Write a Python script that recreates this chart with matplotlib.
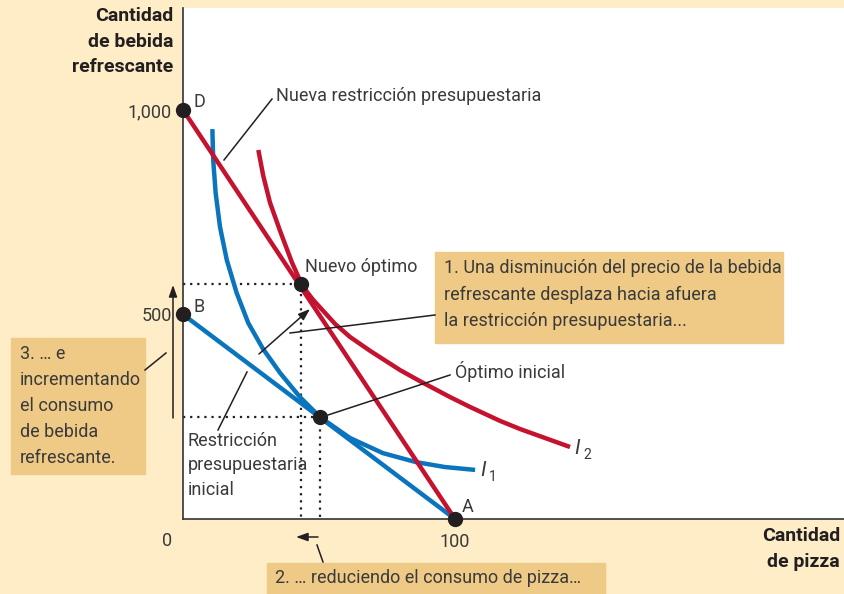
import matplotlib.pyplot as plt
from matplotlib.patches import Rectangle

plt.rcParams['font.family'] = ['Roboto', 'DejaVu Sans']

# budget constraints (pizza, soda)
initial_x = [0, 100]
initial_y = [500, 0]
new_x = [0, 100]
new_y = [1000, 0]

# indifference curves
i1_x = [10.8, 11.1, 12.0, 13.6, 16.1, 19.7, 24.0, 29.4, 35.7, 43.0, 50.4, 61.4, 73.5, 85.7, 96.3, 107.4]
i1_y = [953, 878, 797, 714, 633, 553, 479, 416, 357, 298, 249, 198, 161, 139, 127, 120]
i2_x = [27.7, 29.5, 32.0, 35.7, 40.0, 43.4, 45.6, 47.8, 55.9, 61.4, 68.8, 79.8, 87.1, 98.2, 105.5, 116.5, 123.9, 142.3]
i2_y = [902, 839, 773, 704, 628, 577, 555, 536, 477, 445, 411, 364, 337, 298, 274, 240, 220, 176]

opt_initial = (50.4, 249)
opt_new = (43.4, 574)
corner_points = {"D": (0, 1000), "B": (0, 500), "A": (100, 0)}

red = "#c4122f"
blue = "#0a74bd"
cream = "#feedc7"
box = "#efca86"
ink = "#231f20"
grey = "#3a3a3a"

fig = plt.figure(figsize=(8.45, 5.94), dpi=100, facecolor=cream)
W, H = 845, 594
ax = fig.add_axes([183 / W, 1 - 519 / H, (845 - 183) / W, (519 - 8) / H])
ax.set_facecolor("white")
ax.set_xlim(0, 243.4)
ax.set_ylim(0, 1249)
for s in ["top", "right"]:
    ax.spines[s].set_visible(False)
for s in ["left", "bottom"]:
    ax.spines[s].set_color("#333333")
    ax.spines[s].set_linewidth(1.2)

ax.set_xticks([100])
ax.set_xticklabels(["100"])
ax.set_yticks([500, 1000])
ax.set_yticklabels(["500", "1,000"])
ax.tick_params(length=0, labelsize=13, colors=grey, pad=10)
ax.tick_params(axis="y", pad=8)

# guides to the optimum points
dots = (0, (1, 2.2))
ax.plot([0, opt_new[0], opt_new[0]], [opt_new[1], opt_new[1], 0], ls=dots, color=ink, lw=1.6)
ax.plot([0, opt_initial[0], opt_initial[0]], [opt_initial[1], opt_initial[1], 0], ls=dots, color=ink, lw=1.6)

ax.plot(i1_x, i1_y, color=blue, lw=3.2, solid_capstyle="butt", solid_joinstyle="round")
ax.plot(i2_x, i2_y, color=red, lw=3.2, solid_capstyle="butt", solid_joinstyle="round")
ax.plot(initial_x, initial_y, color=blue, lw=3.2)
ax.plot(new_x, new_y, color=red, lw=3.2)

for name, (px_, py_) in corner_points.items():
    ax.plot(px_, py_, "o", color=ink, ms=10, clip_on=False, zorder=5)
ax.plot(*opt_initial, "o", color=ink, ms=10, zorder=5)
ax.plot(*opt_new, "o", color=ink, ms=10, zorder=5)

# overlay in pixel coordinates for labels and callouts
ov = fig.add_axes([0, 0, 1, 1], zorder=10)
ov.set_xlim(0, W)
ov.set_ylim(H, 0)
ov.axis("off")
ov.patch.set_visible(False)

fs = 13
txt = dict(fontsize=fs, color=grey)

ov.text(173, 7, "Cantidad\nde bebida\nrefrescante", ha="right", va="top", fontsize=14,
        fontweight="bold", color=ink, linespacing=1.55)
ov.text(840, 527, "Cantidad\nde pizza", ha="right", va="top", fontsize=14,
        fontweight="bold", color=ink, linespacing=1.6)
ov.text(167, 541, "0", ha="center", va="center", **txt)

ov.text(194, 102, "D", ha="left", va="center", **txt)
ov.text(194, 307, "B", ha="left", va="center", **txt)
ov.text(462, 507, "A", ha="left", va="center", **txt)
ov.text(305, 267, "Nuevo óptimo", ha="left", va="center", **txt)
ov.text(455, 371, "Óptimo inicial", ha="left", va="center", **txt)
ov.text(276, 96, "Nueva restricción presupuestaria", ha="left", va="center", **txt)
ov.text(188, 432, "Restricción\npresupuestaria\ninicial", ha="left", va="top", linespacing=1.45, **txt)

ov.text(480, 470, "I", ha="left", va="center", fontsize=15, fontstyle="italic", color=grey)
ov.text(489, 477, "1", ha="left", va="center", fontsize=10, color=grey)
ov.text(574, 448, "I", ha="left", va="center", fontsize=15, fontstyle="italic", color=grey)
ov.text(583, 455, "2", ha="left", va="center", fontsize=10, color=grey)

# leader lines
lines = [
    ((272, 99), (224, 160)),
    ((450, 375), (328, 415)),
    ((435, 315), (290, 333)),
    ((247, 372), (218, 430)),
    ((145, 370), (166, 353)),
    ((323, 562), (317, 545)),
]
for (x0, y0), (x1, y1) in lines:
    ov.plot([x0, x1], [y0, y1], color=ink, lw=1.1)

arrow = dict(arrowstyle="-|>,head_length=0.7,head_width=0.25", color=ink, lw=1.1, shrinkA=0, shrinkB=0)
ov.annotate("", xy=(310, 309), xytext=(259, 354), arrowprops=arrow)
ov.annotate("", xy=(173, 285), xytext=(173, 418), arrowprops=arrow)
ov.annotate("", xy=(296, 537), xytext=(318, 537), arrowprops=arrow)

# callout boxes
ov.add_patch(Rectangle((435, 252), 348, 91, color=box, zorder=1))
ov.text(444, 259, "1. Una disminución del precio de la bebida\nrefrescante desplaza hacia afuera\nla restricción presupuestaria...",
        ha="left", va="top", linespacing=1.6, zorder=2, **txt)
ov.add_patch(Rectangle((11, 338), 134, 136, color=box, zorder=1))
ov.text(20, 345, "3. … e\nincrementando\nel consumo\nde bebida\nrefrescante.",
        ha="left", va="top", linespacing=1.57, zorder=2, **txt)
ov.add_patch(Rectangle((267, 563), 338, 31, color=box, zorder=1))
ov.text(275, 578, "2. … reduciendo el consumo de pizza…", ha="left", va="center", zorder=2, **txt)

fig.savefig("out.png", dpi=100, facecolor=cream)
